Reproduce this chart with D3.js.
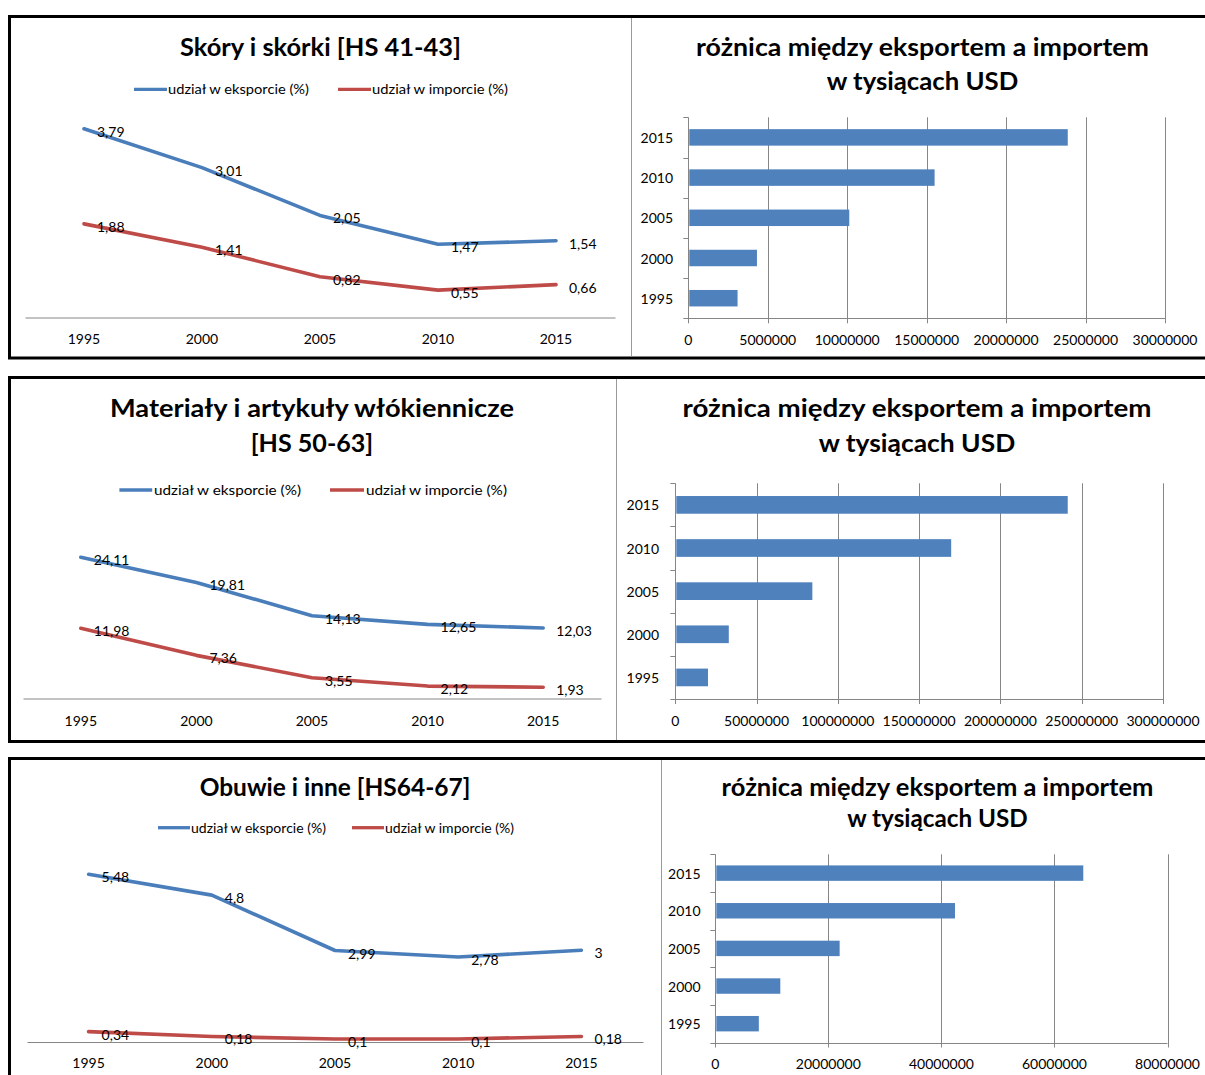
<!DOCTYPE html>
<html>
<head>
<meta charset="utf-8">
<script src="https://cdn.jsdelivr.net/npm/d3@7"></script>
<style>
  html, body { margin: 0; padding: 0; background: #fff; }
  svg { display: block; }
  text { font-family: Lato, "Open Sans", "Liberation Sans", sans-serif; fill: #000; }
</style>
</head>
<body>
<svg id="chart" width="1205" height="1075"></svg>
<script>
// ---------------- DATA ----------------
const years = ["1995", "2000", "2005", "2010", "2015"];

const skoryExport  = [3.79, 3.01, 2.05, 1.47, 1.54];
const skoryImport  = [1.88, 1.41, 0.82, 0.55, 0.66];
const skoryBalance = [3100000, 4320000, 10130000, 15500000, 23880000];
const skoryTicks   = [0, 5000000, 10000000, 15000000, 20000000, 25000000, 30000000];

const tekstExport  = [24.11, 19.81, 14.13, 12.65, 12.03];
const tekstImport  = [11.98, 7.36, 3.55, 2.12, 1.93];
const tekstBalance = [20100000, 32900000, 84300000, 169700000, 241400000];
const tekstTicks   = [0, 50000000, 100000000, 150000000, 200000000, 250000000, 300000000];

const obuwieExport  = [5.48, 4.8, 2.99, 2.78, 3];
const obuwieImport  = [0.34, 0.18, 0.1, 0.1, 0.18];
const obuwieBalance = [7700000, 11500000, 22000000, 42400000, 65100000];
const obuwieTicks   = [0, 20000000, 40000000, 60000000, 80000000];

const lineTitles = [["Skóry i skórki [HS 41-43]"],
                    ["Materiały i artykuły włókiennicze", "[HS 50-63]"],
                    ["Obuwie i inne [HS64-67]"]];
const barTitle = ["różnica między eksportem a importem", "w tysiącach USD"];
const legendLabels = ["udział w eksporcie (%)", "udział w imporcie (%)"];

// ---------------- LAYOUT ----------------
const BLUE = "#4A7EBB", RED = "#BE4B48", BAR = "#4F81BD", GRID = "#868686";

const panels = [
  { exp: skoryExport, imp: skoryImport, bal: skoryBalance, ticks: skoryTicks, title: lineTitles[0],
    top: 16.5, bottom: 358, divider: 631,
    lt: { cx: 320.5, base: [55.5], w: [281] },
    leg: { y: 89.3, b: [134, 167], bt: [168, 309], r: [338, 371], rt: [372, 508] },
    line: { x0: 25, x1: 615, y0: 317.5, yTop: 118.3, yMax: 4, labY: 338.3 },
    bt: { cx: 922.5, base: [55.5, 89.8], w: [453, 191.5] },
    bar: { x0: 688.3, x1: 1165, max: 30000000, yTop: 117.3, yBot: 318.3, labY: 339.5, labR: 673 } },
  { exp: tekstExport, imp: tekstImport, bal: tekstBalance, ticks: tekstTicks, title: lineTitles[1],
    top: 377.5, bottom: 741.5, divider: 616,
    lt: { cx: 312, base: [417.2, 452.2], w: [404, 122.5] },
    leg: { y: 490, b: [119.4, 152.2], bt: [154, 301], r: [330, 364], rt: [366, 507] },
    line: { x0: 23, x1: 601, y0: 698.5, yTop: 522.7, yMax: 30, labY: 720.7 },
    bt: { cx: 917, base: [417.2, 452.2], w: [469, 196.5] },
    bar: { x0: 675.3, x1: 1163, max: 300000000, yTop: 483.3, yBot: 699, labY: 720.5, labR: 659 } },
  { exp: obuwieExport, imp: obuwieImport, bal: obuwieBalance, ticks: obuwieTicks, title: lineTitles[2],
    top: 758.5, bottom: 1100, divider: 661,
    lt: { cx: 335, base: [795.5], w: [270.7] },
    leg: { y: 827.7, b: [158, 190], bt: [191, 326], r: [352, 384], rt: [385, 514] },
    line: { x0: 27, x1: 643, y0: 1042, yTop: 858.4, yMax: 6, labY: 1062.3 },
    bt: { cx: 937.5, base: [795.5, 827.2], w: [431.4, 180.5] },
    bar: { x0: 715.3, x1: 1167.5, max: 80000000, yTop: 854.3, yBot: 1042.5, labY: 1063, labR: 700.6 } }
];

const svg = d3.select("#chart");
svg.append("rect").attr("width", 1205).attr("height", 1075).attr("fill", "#fff");

function fit(sel, w) {
  const L = sel.node().getComputedTextLength();
  if (Math.abs(L - w) > 0.5) sel.attr("textLength", w).attr("lengthAdjust", "spacingAndGlyphs");
  return sel;
}
const fmtComma = v => String(v).replace(".", ",");

panels.forEach(p => {
  const g = svg.append("g");

  // panel frame
  g.append("rect").attr("x", 9.5).attr("y", p.top).attr("width", 1300).attr("height", p.bottom - p.top)
    .attr("fill", "none").attr("stroke", "#000").attr("stroke-width", 3);
  g.append("line").attr("x1", p.divider + 0.5).attr("x2", p.divider + 0.5)
    .attr("y1", p.top + 1.5).attr("y2", Math.min(p.bottom - 1.5, 1075))
    .attr("stroke", "#9a9a9a").attr("stroke-width", 1);

  // ---------- LINE CHART ----------
  p.title.forEach((t, i) => {
    fit(g.append("text").attr("x", p.lt.cx).attr("y", p.lt.base[i]).attr("text-anchor", "middle")
      .attr("font-size", 25.5).attr("font-weight", "bold").text(t), p.lt.w[i]);
  });

  // legend
  [[p.leg.b, p.leg.bt, BLUE, legendLabels[0]], [p.leg.r, p.leg.rt, RED, legendLabels[1]]].forEach(([ln, tx, c, lab]) => {
    g.append("line").attr("x1", ln[0]).attr("x2", ln[1]).attr("y1", p.leg.y).attr("y2", p.leg.y)
      .attr("stroke", c).attr("stroke-width", 3.3);
    fit(g.append("text").attr("x", tx[0]).attr("y", p.leg.y).attr("dominant-baseline", "central")
      .attr("font-size", 13).text(lab), tx[1] - tx[0]);
  });

  const x = d3.scaleBand().domain(years).range([p.line.x0, p.line.x1]);
  const y = d3.scaleLinear().domain([0, p.line.yMax]).range([p.line.y0, p.line.yTop]);
  const cx = d => x(d) + x.bandwidth() / 2;

  const xAxis = g.append("g").attr("transform", `translate(0,${p.line.y0})`)
    .call(d3.axisBottom(x).tickSize(0).tickPadding(0));
  xAxis.select(".domain").attr("stroke", GRID).attr("stroke-width", 1);
  xAxis.selectAll(".tick text").remove();
  years.forEach(yr => {
    g.append("text").attr("x", cx(yr)).attr("y", p.line.labY).attr("text-anchor", "middle")
      .attr("dominant-baseline", "central").attr("font-size", 14).text(yr);
  });

  const lineGen = d3.line().x((d, i) => cx(years[i])).y(d => y(d));
  [[p.imp, RED], [p.exp, BLUE]].forEach(([vals, c]) => {
    g.append("path").datum(vals).attr("d", lineGen).attr("fill", "none")
      .attr("stroke", c).attr("stroke-width", 3.6).attr("stroke-linejoin", "round").attr("stroke-linecap", "round");
  });
  [p.exp, p.imp].forEach(vals => {
    g.selectAll(null).data(vals).enter().append("text")
      .attr("x", (d, i) => cx(years[i]) + 13).attr("y", d => y(d) + 2.5)
      .attr("dominant-baseline", "central").attr("font-size", 14).text(d => fmtComma(d));
  });

  // ---------- BAR CHART ----------
  barTitle.forEach((t, i) => {
    fit(g.append("text").attr("x", p.bt.cx).attr("y", p.bt.base[i]).attr("text-anchor", "middle")
      .attr("font-size", 25.5).attr("font-weight", "bold").text(t), p.bt.w[i]);
  });

  const bx = d3.scaleLinear().domain([0, p.bar.max]).range([p.bar.x0, p.bar.x1]);
  const by = d3.scaleBand().domain(years.slice().reverse()).range([p.bar.yTop, p.bar.yBot]);

  // gridlines
  g.selectAll(null).data(p.ticks).enter().append("line")
    .attr("x1", d => Math.round(bx(d)) + 0.5).attr("x2", d => Math.round(bx(d)) + 0.5)
    .attr("y1", p.bar.yTop).attr("y2", p.bar.yBot + 5)
    .attr("stroke", GRID).attr("stroke-width", 1);
  // x axis line
  g.append("line").attr("x1", bx(0)).attr("x2", bx(p.bar.max))
    .attr("y1", Math.round(p.bar.yBot) + 0.5).attr("y2", Math.round(p.bar.yBot) + 0.5)
    .attr("stroke", GRID).attr("stroke-width", 1);
  // y axis boundary ticks
  const bounds = by.domain().map(d => by(d)).concat([p.bar.yBot]);
  g.selectAll(null).data(bounds).enter().append("line")
    .attr("x1", bx(0) - 5).attr("x2", bx(0))
    .attr("y1", d => Math.round(d) + 0.5).attr("y2", d => Math.round(d) + 0.5)
    .attr("stroke", GRID).attr("stroke-width", 1);

  // bars
  const bh = by.bandwidth() * 0.41;
  g.selectAll(null).data(p.bal).enter().append("rect")
    .attr("x", bx(0) + 1).attr("width", d => bx(d) - bx(0) - 1)
    .attr("y", (d, i) => by(years[i]) + (by.bandwidth() - bh) / 2).attr("height", bh)
    .attr("fill", BAR);

  // labels
  g.selectAll(null).data(p.ticks).enter().append("text")
    .attr("x", d => bx(d)).attr("y", p.bar.labY).attr("text-anchor", "middle")
    .attr("dominant-baseline", "central").attr("font-size", 14).text(d => d3.format("d")(d));
  years.forEach(yr => {
    g.append("text").attr("x", p.bar.labR).attr("y", by(yr) + by.bandwidth() / 2)
      .attr("text-anchor", "end").attr("dominant-baseline", "central").attr("font-size", 14).text(yr);
  });
});
</script>
</body>
</html>
